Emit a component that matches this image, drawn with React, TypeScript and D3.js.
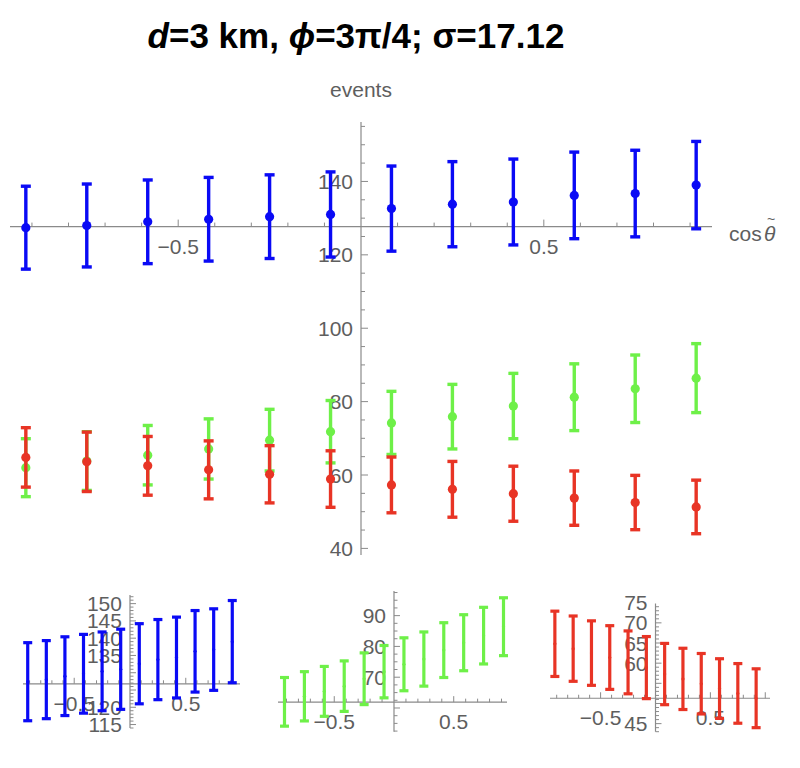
import React from 'react';
import * as d3 from 'd3';

// ---------- data ----------
const cosTheta = [-0.9167, -0.75, -0.5833, -0.4167, -0.25, -0.0833, 0.0833, 0.25, 0.4167, 0.5833, 0.75, 0.9167];

const blueEvents = [127.4, 128.0, 129.0, 129.7, 130.4, 131.0, 132.6, 133.8, 134.4, 136.2, 136.7, 139.0];
const blueErr = [11.3, 11.3, 11.4, 11.4, 11.4, 11.6, 11.6, 11.6, 11.7, 11.8, 11.8, 11.9];

const greenEvents = [62.0, 63.8, 65.4, 67.1, 69.5, 71.8, 74.2, 75.9, 78.8, 81.2, 83.5, 86.4];
const greenErr = [7.9, 8.0, 8.1, 8.2, 8.4, 8.5, 8.6, 8.8, 8.9, 9.1, 9.2, 9.4];

const redEvents = [64.8, 63.6, 62.5, 61.4, 60.2, 58.9, 57.3, 56.1, 54.9, 53.7, 52.5, 51.3];
const redErr = [8.1, 8.1, 8.0, 7.9, 7.8, 7.7, 7.6, 7.6, 7.5, 7.4, 7.4, 7.3];

const mainYTickLabels = [40, 60, 80, 100, 120, 140];
const xTickLabels = [-0.5, 0.5];
const blueYTickLabels = [115, 120, 135, 140, 145, 150];
const greenYTickLabels = [70, 80, 90];
const redYTickLabels = [45, 60, 65, 70, 75];

const BLUE = '#0a0af5';
const GREEN = '#6ef048';
const RED = '#e83425';
const AXIS = '#8a8a8a';
const LABEL = '#5e5e5e';
const FONT = '"Liberation Sans", Arial, Helvetica, sans-serif';
const TICK_FS = 21;

type Series = { vals: number[]; errs: number[]; color: string };

type ChartCfg = {
  xDomain: [number, number];
  xRange: [number, number];
  yDomain: [number, number];
  yRange: [number, number];
  xAxisAt: number;
  yMinor: number;
  yMajor: number;
  yLabels: number[];
  series: Series[];
  capW: number;
  r: number;
  sw: number;
  majorLen: number;
  minorLen: number;
};

function stepTicks(lo: number, hi: number, step: number, major: number) {
  const out: { v: number; major: boolean }[] = [];
  const k0 = Math.ceil(lo / step - 1e-9);
  const k1 = Math.floor(hi / step + 1e-9);
  for (let k = k0; k <= k1; k++) {
    const v = +(k * step).toFixed(6);
    const q = v / major;
    out.push({ v, major: Math.abs(q - Math.round(q)) < 1e-6 });
  }
  return out;
}

const fmt = (v: number) => (v < 0 ? '\u2212' + String(-v) : String(v));

function Chart({ cfg }: { cfg: ChartCfg }) {
  const x = d3.scaleLinear().domain(cfg.xDomain).range(cfg.xRange);
  const y = d3.scaleLinear().domain(cfg.yDomain).range(cfg.yRange);
  const ax = x(0);
  const ay = y(cfg.xAxisAt);
  const xt = stepTicks(cfg.xDomain[0], cfg.xDomain[1], 0.1, 0.5).filter((t) => Math.abs(t.v) > 1e-6);
  const yt = stepTicks(cfg.yDomain[0], cfg.yDomain[1], cfg.yMinor, cfg.yMajor);
  return (
    <g>
      {/* axes */}
      <line x1={cfg.xRange[0]} x2={cfg.xRange[1]} y1={ay} y2={ay} stroke={AXIS} strokeWidth={1.2} />
      <line x1={ax} x2={ax} y1={cfg.yRange[0]} y2={cfg.yRange[1]} stroke={AXIS} strokeWidth={1.2} />
      {xt.map((t, i) => (
        <line key={'xt' + i} x1={x(t.v)} x2={x(t.v)} y1={ay} y2={ay - (t.major ? cfg.majorLen : cfg.minorLen)} stroke={AXIS} strokeWidth={1} />
      ))}
      {yt.map((t, i) => (
        <line key={'yt' + i} x1={ax} x2={ax + (t.major ? cfg.majorLen : cfg.minorLen)} y1={y(t.v)} y2={y(t.v)} stroke={AXIS} strokeWidth={1} />
      ))}
      {/* tick labels */}
      {xTickLabels.map((v) => (
        <text key={'xl' + v} x={x(v)} y={ay + 27} textAnchor="middle" fontSize={TICK_FS} fill={LABEL} fontFamily={FONT}>
          {fmt(v)}
        </text>
      ))}
      {cfg.yLabels.map((v) => (
        <text key={'yl' + v} x={ax - 8} y={y(v)} dy="0.36em" textAnchor="end" fontSize={TICK_FS} fill={LABEL} fontFamily={FONT}>
          {fmt(v)}
        </text>
      ))}
      {/* data */}
      {cfg.series.map((s, si) => (
        <g key={'s' + si} stroke={s.color} fill={s.color}>
          {s.vals.map((v, i) => {
            const cx = x(cosTheta[i]);
            const top = y(v + s.errs[i]);
            const bot = y(v - s.errs[i]);
            return (
              <g key={i}>
                <line x1={cx} x2={cx} y1={top} y2={bot} strokeWidth={cfg.sw} />
                <line x1={cx - cfg.capW / 2} x2={cx + cfg.capW / 2} y1={top} y2={top} strokeWidth={cfg.sw} />
                <line x1={cx - cfg.capW / 2} x2={cx + cfg.capW / 2} y1={bot} y2={bot} strokeWidth={cfg.sw} />
                <circle cx={cx} cy={y(v)} r={cfg.r} stroke="none" />
              </g>
            );
          })}
        </g>
      ))}
    </g>
  );
}

const blue: Series = { vals: blueEvents, errs: blueErr, color: BLUE };
const green: Series = { vals: greenEvents, errs: greenErr, color: GREEN };
const red: Series = { vals: redEvents, errs: redErr, color: RED };

const mainCfg: ChartCfg = {
  xDomain: [-0.96, 0.96],
  xRange: [10, 712],
  yDomain: [38.2, 156.2],
  yRange: [555, 122],
  xAxisAt: 127.7,
  yMinor: 5,
  yMajor: 20,
  yLabels: mainYTickLabels,
  series: [blue, green, red],
  capW: 10,
  r: 4.6,
  sw: 3.4,
  majorLen: 7,
  minorLen: 4,
};

const panelBlue: ChartCfg = {
  xDomain: [-0.959, 0.986],
  xRange: [23, 240],
  yDomain: [114, 152.5],
  yRange: [728, 595],
  xAxisAt: 126.8,
  yMinor: 1,
  yMajor: 5,
  yLabels: blueYTickLabels,
  series: [blue],
  capW: 9,
  r: 1.6,
  sw: 3.2,
  majorLen: 6,
  minorLen: 3.5,
};

const panelGreen: ChartCfg = {
  xDomain: [-0.971, 0.946],
  xRange: [278, 507],
  yDomain: [52.3, 98.0],
  yRange: [731.7, 591],
  xAxisAt: 61.9,
  yMinor: 2.5,
  yMajor: 10,
  yLabels: greenYTickLabels,
  series: [green],
  capW: 9,
  r: 1.6,
  sw: 3.2,
  majorLen: 6,
  minorLen: 3.5,
};

const panelRed: ChartCfg = {
  xDomain: [-0.961, 1.043],
  xRange: [550, 770],
  yDomain: [43.0, 74.8],
  yRange: [731.7, 603.5],
  xAxisAt: 51.3,
  yMinor: 1,
  yMajor: 5,
  yLabels: redYTickLabels,
  series: [red],
  capW: 9,
  r: 1.6,
  sw: 3.2,
  majorLen: 6,
  minorLen: 3.5,
};

export default function App() {
  return (
    <svg
      width={800}
      height={768}
      viewBox="0 0 800 768"
      style={{ position: 'absolute', left: 0, top: 0, background: '#fff' }}
    >
      <rect x={0} y={0} width={800} height={768} fill="#fff" />
      <text x={356} y={48} textAnchor="middle" fontSize={35} fontWeight="bold" fontFamily={FONT} fill="#000">
        <tspan fontStyle="italic">d</tspan>
        <tspan>=3 km, </tspan>
        <tspan fontStyle="italic">ϕ</tspan>
        <tspan>=3π/4; σ=17.12</tspan>
      </text>
      <text x={361} y={97} textAnchor="middle" fontSize={TICK_FS} fill={LABEL} fontFamily={FONT}>
        events
      </text>
      <text x={729} y={241} fontSize={TICK_FS} fill={LABEL} fontFamily={FONT}>
        cos
      </text>
      <text x={764} y={241} fontSize={TICK_FS} fill={LABEL} fontFamily={FONT} fontStyle="italic">
        θ
      </text>
      <text x={771} y={224} fontSize={14} fill={LABEL} fontFamily={FONT} textAnchor="middle">
        ~
      </text>
      <Chart cfg={mainCfg} />
      <Chart cfg={panelBlue} />
      <Chart cfg={panelGreen} />
      <Chart cfg={panelRed} />
    </svg>
  );
}
